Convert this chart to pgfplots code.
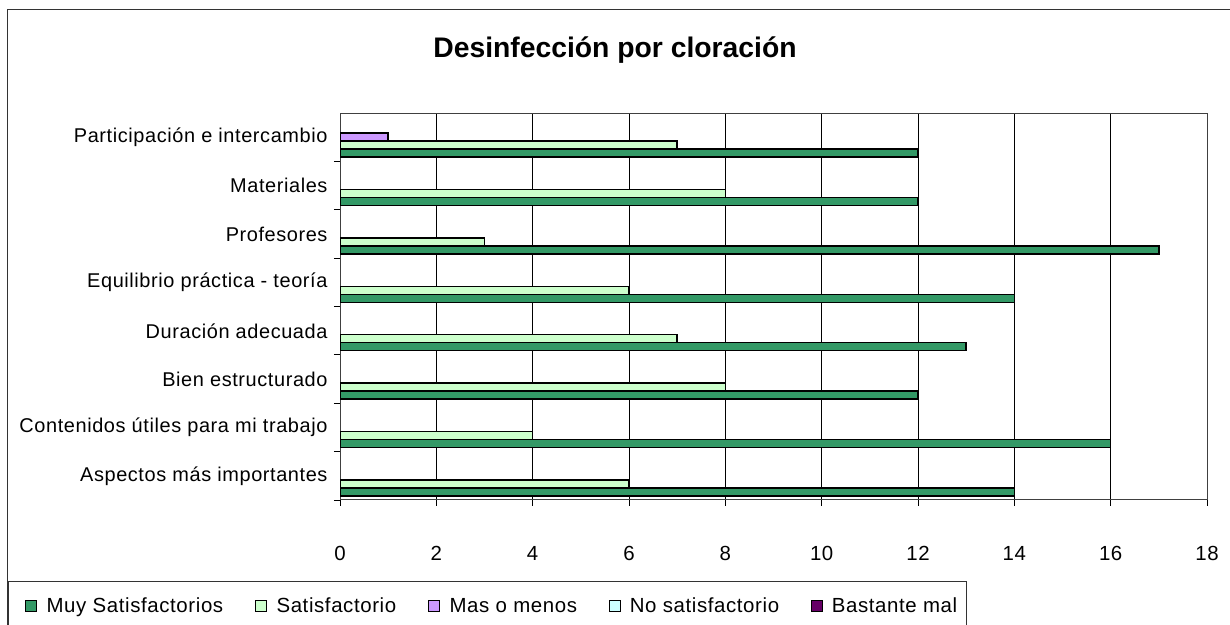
\documentclass[border=0pt]{standalone}
\usepackage{fontspec}
\setmainfont[LetterSpace=3]{Liberation Sans}
\newfontfamily\titlefont{Liberation Sans}
\usepackage{pgfplots}
\pgfplotsset{compat=1.18}
\definecolor{muysat}{RGB}{51,153,102}
\definecolor{sat}{RGB}{204,255,204}
\definecolor{masmenos}{RGB}{204,153,255}
\definecolor{nosat}{RGB}{204,255,255}
\definecolor{bastante}{RGB}{102,0,102}
\pgfplotsset{sq legend/.style={legend image code/.code={\draw[##1,draw=black,line width=1.1bp] (0bp,-5.5bp) rectangle (11bp,5.5bp); \path (18bp,0bp);}}}

\begin{document}
\begin{tikzpicture}
\useasboundingbox (0bp,0bp) rectangle (1230bp,625bp);
% chart frame and legend frame (cut off by the picture edge, as in the reference)
\draw[line width=1.2bp, black!80] (7.5bp,-2bp) -- (7.5bp,615.5bp) -- (1232bp,615.5bp);
\draw[line width=1bp, black!80] (8bp,-2bp) -- (8bp,43bp) -- (966bp,43bp) -- (966bp,-2bp);
\node[font=\titlefont\fontsize{28.4}{32}\selectfont\bfseries] at (615bp,575bp) {Desinfección por cloración};

\begin{axis}[
    at={(340bp,125bp)}, anchor=south west,
    scale only axis, width=867bp, height=387bp,
    xbar, bar width=8bp,
    xmin=0, xmax=18, ymin=-0.5, ymax=7.5,
    xtick={0,2,...,18},
    ytick={-0.5,0.5,...,6.5},
    yticklabels={Aspectos más importantes, Contenidos útiles para mi trabajo, Bien estructurado, Duración adecuada, Equilibrio práctica - teoría, Profesores, Materiales, Participación e intercambio},
    xtick pos=lower, ytick pos=left,
    tick align=outside, major tick length=6bp,
    tick style={black, line width=0.8bp},
    axis line style={black!75, line width=1bp},
    xmajorgrids, grid style={black, line width=0.8bp},
    /pgf/number format/assume math mode=true,
    y tick label style={yshift=24bp, xshift=-3bp, font=\fontsize{20}{22}\selectfont},
    x tick label style={yshift=-37bp, font=\fontsize{20.5}{22}\selectfont},
    legend columns=5,
    legend style={draw=none, fill=none, inner sep=0pt, at={(-0.3633,-0.2739)}, anchor=west,
        font=\fontsize{20.5}{22}\selectfont, /tikz/every even column/.append style={column sep=30bp}},
]
\addplot[sq legend, fill=muysat, draw=black, line width=1.6bp, bar shift=-16bp] coordinates {
    (14,0) (16,1) (12,2) (13,3) (14,4) (17,5) (12,6) (12,7)};
\addlegendentry{Muy Satisfactorios}
\addplot[sq legend, fill=sat, draw=black, line width=1.6bp, bar shift=-8bp] coordinates {
    (6,0) (4,1) (8,2) (7,3) (6,4) (3,5) (8,6) (7,7)};
\addlegendentry{Satisfactorio}
\addplot[sq legend, fill=masmenos, draw=black, line width=1.6bp, bar shift=0bp] coordinates {
    (1,7)};
\addlegendentry{Mas o menos}
\addlegendimage{sq legend, fill=nosat, draw=black}
\addlegendentry{No satisfactorio}
\addlegendimage{sq legend, fill=bastante, draw=black}
\addlegendentry{Bastante mal}
\end{axis}
\end{tikzpicture}
\end{document}
